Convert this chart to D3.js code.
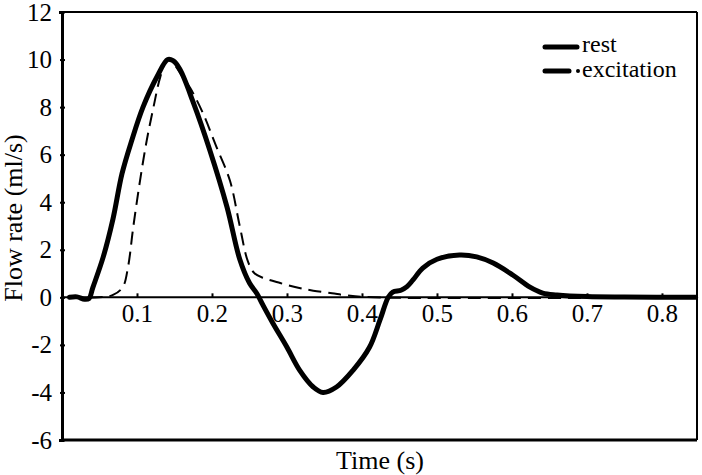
<!DOCTYPE html>
<html>
<head>
<meta charset="utf-8">
<script src="https://cdn.jsdelivr.net/npm/d3@7"></script>
<style>
  body { margin: 0; background: #fff; }
  svg text { font-family: "Liberation Serif", "Times New Roman", serif; fill: #000; }
</style>
</head>
<body>
<div id="container"></div>
<script>
// Values
var restTime = [0.01, 0.02, 0.03, 0.036, 0.041, 0.055, 0.068, 0.08, 0.093, 0.108, 0.127, 0.141, 0.148, 0.157,
    0.175, 0.197, 0.22, 0.237, 0.25, 0.26, 0.268, 0.281, 0.3, 0.317, 0.335, 0.348, 0.366, 0.388, 0.41,
    0.424, 0.435, 0.441, 0.452, 0.46, 0.468, 0.481, 0.5, 0.53, 0.553, 0.575, 0.601, 0.624, 0.641,
    0.66, 0.7, 0.75, 0.845];
var restFlow = [0, 0.02, -0.08, -0.05, 0.4, 1.7, 3.3, 5.2, 6.6, 8.0, 9.3, 10.0, 9.95, 9.6,
    8.2, 6.2, 3.8, 1.6, 0.6, 0.15, -0.33, -1.08, -2.1, -3.07, -3.77, -4.0, -3.77, -3.07, -2.1,
    -0.95, 0, 0.22, 0.3, 0.45, 0.73, 1.23, 1.6, 1.78, 1.7, 1.44, 0.94, 0.43, 0.18,
    0.1, 0.03, 0.01, 0];

var excTime = [0.01, 0.05, 0.068, 0.081, 0.088, 0.095, 0.104, 0.113, 0.122, 0.131, 0.14, 0.148, 0.161,
    0.171, 0.188, 0.205, 0.224, 0.237, 0.248, 0.257, 0.27, 0.291, 0.315, 0.335, 0.36, 0.38, 0.415, 0.845];
var excFlow = [0, 0, 0.1, 0.43, 1.27, 2.95, 4.9, 6.6, 8.0, 9.26, 9.98, 9.85, 9.26,
    8.8, 7.74, 6.4, 4.9, 3.0, 1.5, 1.0, 0.8, 0.6, 0.4, 0.28, 0.17, 0.08, 0, 0];

var xTicks = [0.1, 0.2, 0.3, 0.4, 0.5, 0.6, 0.7, 0.8];
var yTicks = [-6, -4, -2, 0, 2, 4, 6, 8, 10, 12];
var seriesNames = ['rest', 'excitation'];

// Basic parameters
var WIDTH = 702,
    HEIGHT = 475;
var plotLeft = 62, plotRight = 697, plotTop = 12, plotBottom = 440;
var FONT = '"Liberation Serif", "Times New Roman", serif';

var svg = d3.select('#container')
    .append('svg')
    .attr('width', WIDTH)
    .attr('height', HEIGHT);

var x = d3.scaleLinear().domain([0, 0.8467]).range([plotLeft, plotRight]);
var y = d3.scaleLinear().domain([-6, 12]).range([plotBottom, plotTop]);

// frame: top, right, bottom
svg.append('line').attr('x1', plotLeft).attr('x2', plotRight).attr('y1', plotTop).attr('y2', plotTop)
    .attr('stroke', '#000').attr('stroke-width', 2);
svg.append('line').attr('x1', plotRight).attr('x2', plotRight).attr('y1', plotTop).attr('y2', plotBottom)
    .attr('stroke', '#000').attr('stroke-width', 2);
svg.append('line').attr('x1', plotLeft).attr('x2', plotRight).attr('y1', plotBottom).attr('y2', plotBottom)
    .attr('stroke', '#000').attr('stroke-width', 3);

// y axis
var yAxis = svg.append('g')
    .attr('transform', 'translate(' + plotLeft + ',0)')
    .call(d3.axisLeft(y).tickValues(yTicks).tickSize(3).tickPadding(7)
        .tickFormat(function(d) { return String(d); }))
    .attr('font-family', FONT)
    .attr('font-size', 25);
yAxis.select('.domain').attr('stroke-width', 3);
yAxis.selectAll('.tick line').attr('x1', -2).attr('x2', 3).attr('stroke-width', 2);

// x axis along zero
var xAxis = svg.append('g')
    .attr('transform', 'translate(0,' + y(0) + ')')
    .call(d3.axisBottom(x).tickValues(xTicks).tickSize(0).tickFormat(d3.format('.1f')))
    .attr('font-family', FONT)
    .attr('font-size', 25);
xAxis.select('.domain').attr('stroke-width', 2).attr('d', 'M' + plotLeft + ',0H' + plotRight);
xAxis.selectAll('.tick line').attr('y1', -4).attr('y2', 0).attr('stroke-width', 2);
xAxis.selectAll('.tick text').attr('y', 25).attr('dy', 0);

var line = d3.line()
    .x(function(d) { return x(d[0]); })
    .y(function(d) { return y(d[1]); })
    .curve(d3.curveCatmullRom.alpha(0.5));

var excData = d3.zip(excTime, excFlow);
var restData = d3.zip(restTime, restFlow);

svg.append('path')
    .datum(excData)
    .attr('d', line)
    .attr('fill', 'none')
    .attr('stroke', '#000')
    .attr('stroke-width', 2)
    .attr('stroke-dasharray', '13,7');

svg.append('path')
    .datum(restData)
    .attr('d', line)
    .attr('fill', 'none')
    .attr('stroke', '#000')
    .attr('stroke-width', 5)
    .attr('stroke-linejoin', 'round')
    .attr('stroke-linecap', 'round');

// legend
var legend = svg.append('g');
legend.append('line').attr('x1', 545).attr('x2', 577).attr('y1', 47).attr('y2', 47)
    .attr('stroke', '#000').attr('stroke-width', 5).attr('stroke-linecap', 'round');
legend.append('line').attr('x1', 545).attr('x2', 569).attr('y1', 71).attr('y2', 71)
    .attr('stroke', '#000').attr('stroke-width', 5).attr('stroke-linecap', 'round');
legend.append('circle').attr('cx', 578).attr('cy', 71).attr('r', 2).attr('fill', '#000');
legend.selectAll('text')
    .data(seriesNames)
    .enter()
    .append('text')
    .attr('x', 582)
    .attr('y', function(d, i) { return 52 + i * 25; })
    .style('font-size', '24px')
    .text(function(d) { return d; });

// axis titles
svg.append('text')
    .attr('x', 380)
    .attr('y', 469)
    .attr('text-anchor', 'middle')
    .style('font-size', '26px')
    .text('Time (s)');

svg.append('text')
    .attr('transform', 'translate(22,218) rotate(-90)')
    .attr('text-anchor', 'middle')
    .style('font-size', '26px')
    .text('Flow rate (ml/s)');
</script>
</body>
</html>
